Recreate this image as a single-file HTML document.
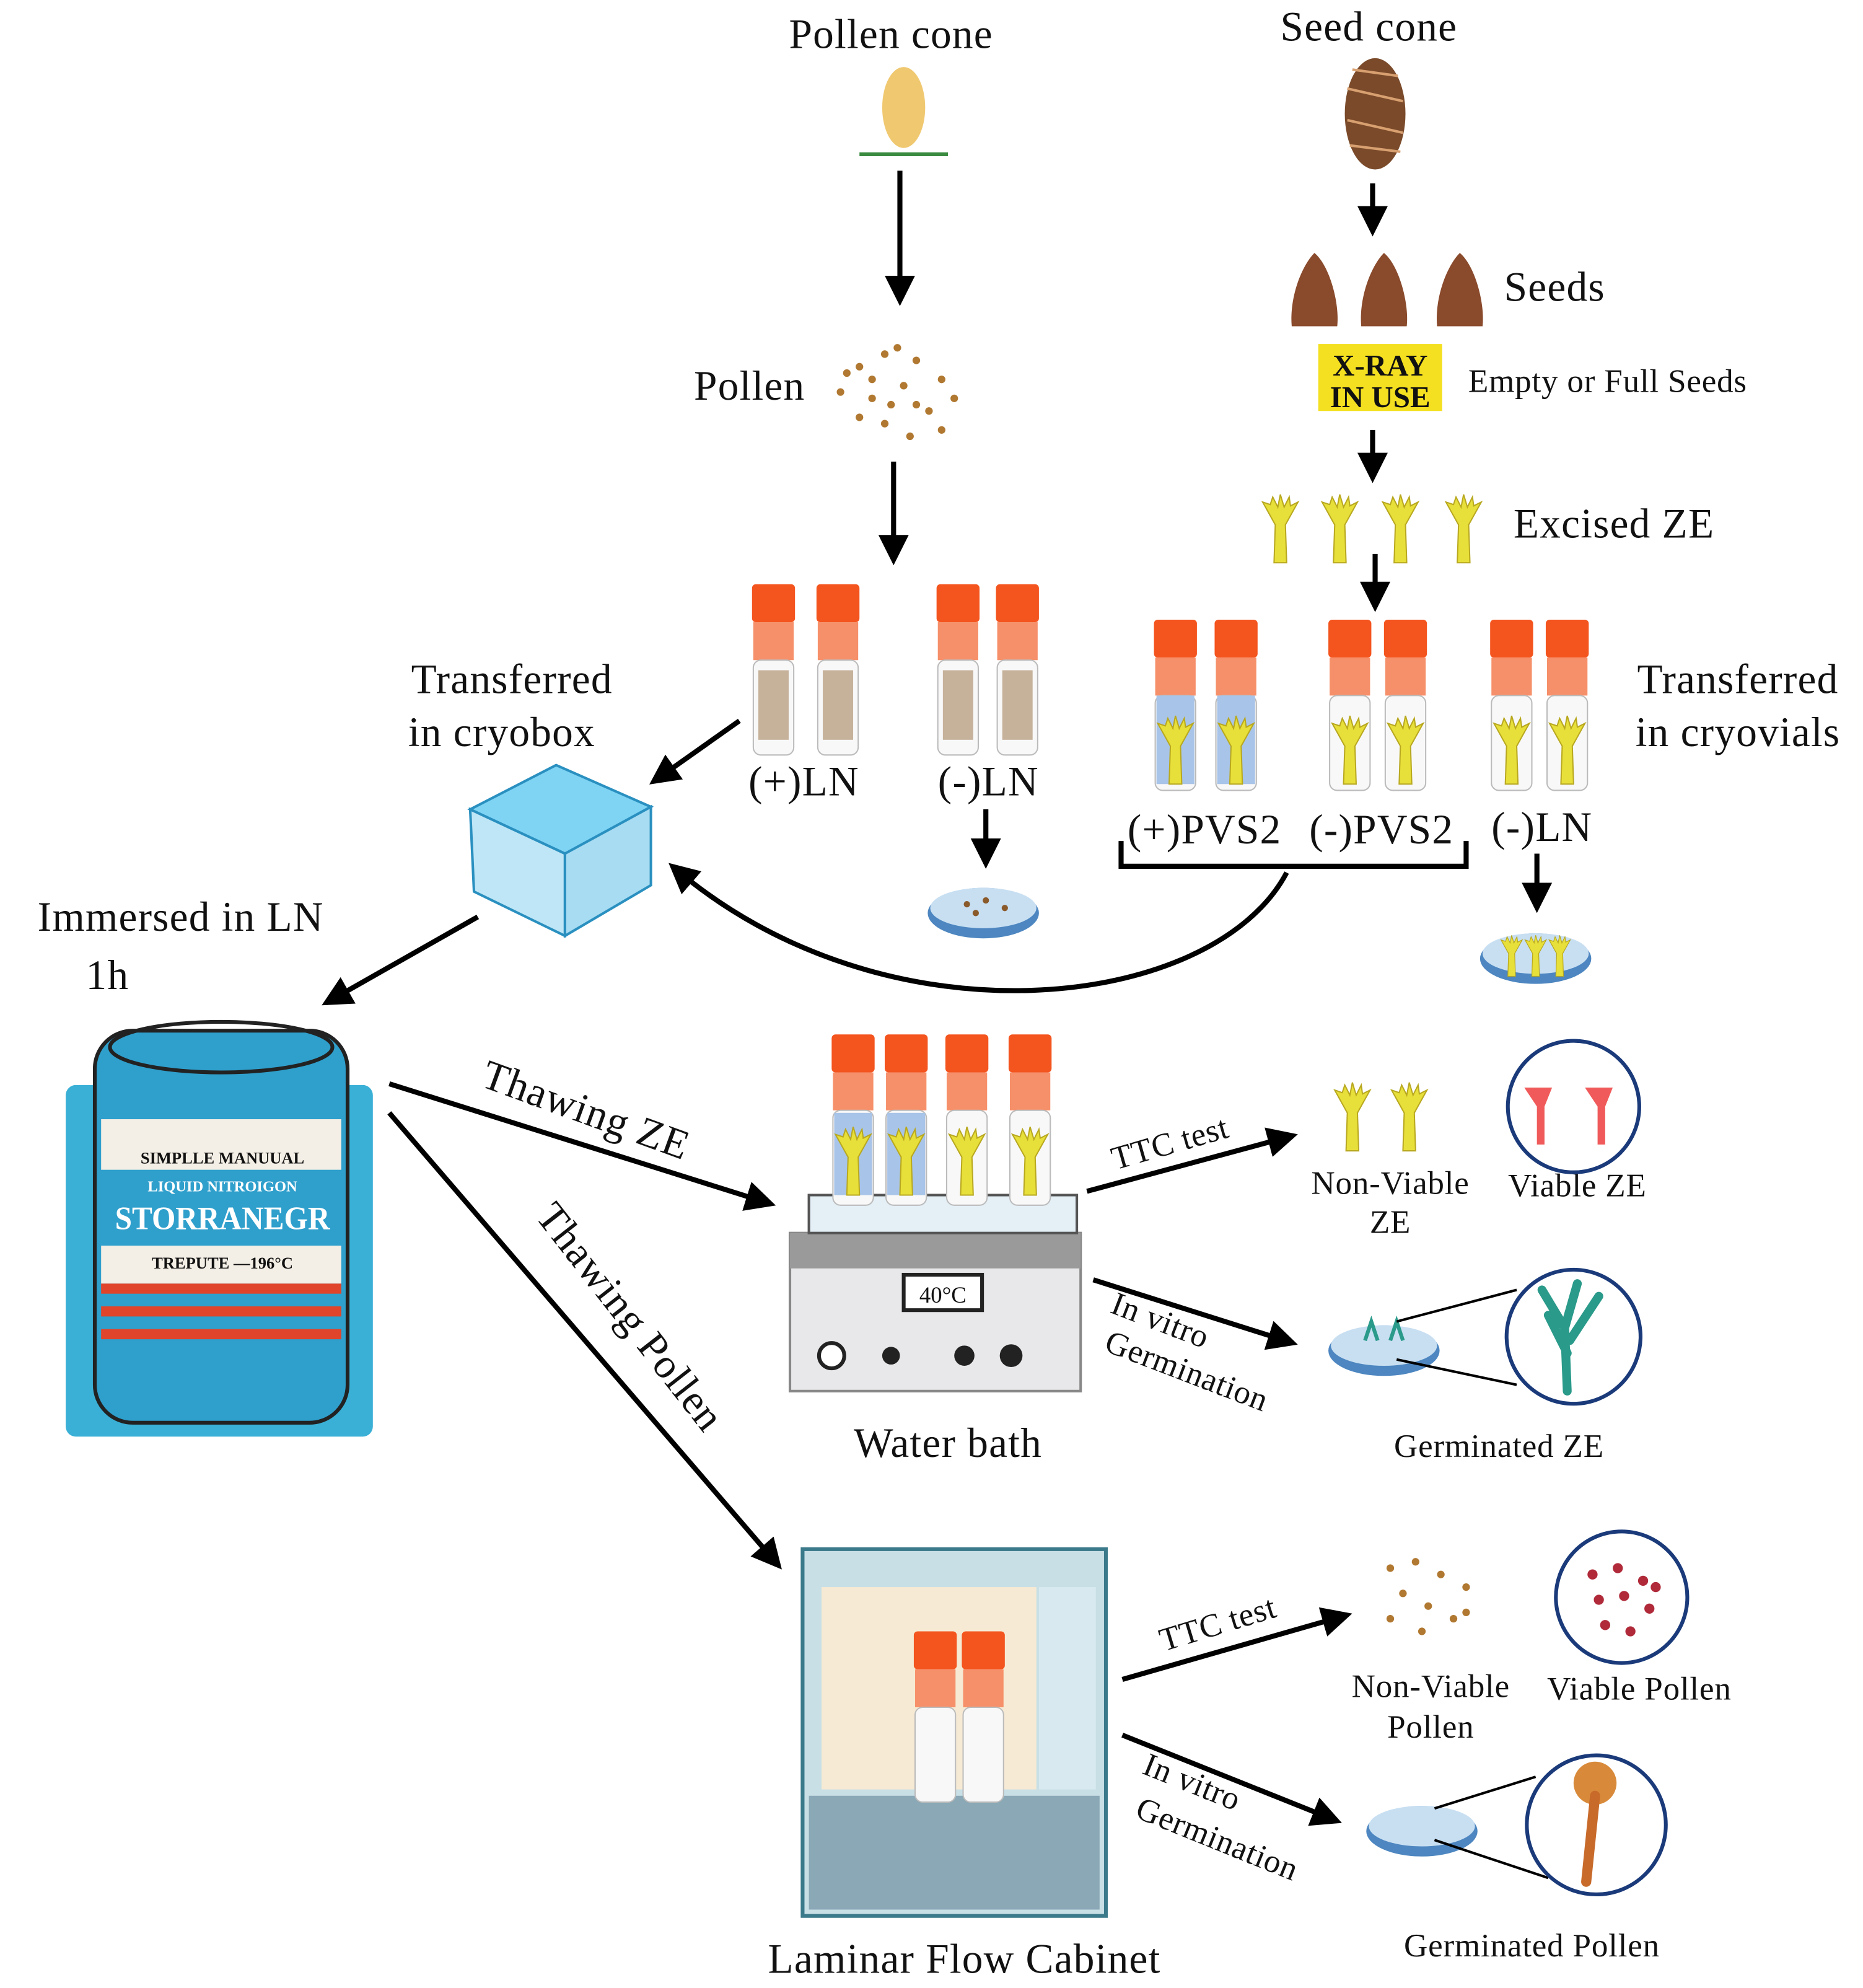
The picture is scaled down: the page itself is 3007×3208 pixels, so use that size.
<!DOCTYPE html>
<html><head><meta charset="utf-8"><style>
html,body{margin:0;padding:0;background:#fff}
svg{display:block}
text{font-family:"Liberation Serif",serif;fill:#111}
.b{font-size:33px;letter-spacing:0.6px}
.s{font-size:26px;letter-spacing:0.4px}
</style></head><body>
<svg width="3007" height="3208" viewBox="0 0 1474 1572" preserveAspectRatio="none" xmlns="http://www.w3.org/2000/svg">
<defs>
<marker id="ah" markerWidth="6" markerHeight="6" refX="5" refY="3" orient="auto" markerUnits="strokeWidth"><path d="M0,0 L6,3 L0,6 Z" fill="#000"/></marker>
<g id="tube"><rect x="-17" y="0" width="34" height="30" rx="3" fill="#f4541e"/><rect x="-16" y="30" width="32" height="30" fill="#f6906a"/><rect x="-16" y="60" width="32" height="75" rx="6" fill="#f8f8f8" stroke="#bbb"/></g>
<g id="ze"><path d="M-5,40 L-4,10 L-14,-8 L-8,-6 L-6,-12 L-2,-4 L0,-14 L3,-4 L7,-12 L8,-5 L14,-8 L4,10 L5,40 Z" fill="#e8e03a" stroke="#b8a820" stroke-width="1"/></g>
<g id="seed"><path d="M0,-30 C12,-20 20,10 18,28 L-18,28 C-20,5 -10,-20 0,-30Z" fill="#8a4a2c"/></g>
<g id="dish"><ellipse cx="0" cy="0" rx="44" ry="20" fill="#4d86c0"/><ellipse cx="0" cy="-4" rx="42" ry="16" fill="#c8dff2"/></g>
</defs>
<g stroke="#000" stroke-width="4" fill="none" marker-end="url(#ah)">
<line x1="712" y1="135" x2="712" y2="238"/>
<line x1="707" y1="365" x2="707" y2="443"/>
<line x1="780" y1="640" x2="780" y2="683"/>
<line x1="585" y1="570" x2="517" y2="618"/>
<line x1="378" y1="725" x2="258" y2="793"/>
<line x1="1086" y1="145" x2="1086" y2="183"/>
<line x1="1086" y1="340" x2="1086" y2="378"/>
<line x1="1088" y1="438" x2="1088" y2="480"/>
<line x1="1216" y1="675" x2="1216" y2="718"/>
<line x1="308" y1="857" x2="610" y2="952"/>
<line x1="308" y1="880" x2="616" y2="1238"/>
<line x1="860" y1="942" x2="1023" y2="898"/>
<line x1="865" y1="1012" x2="1023" y2="1062"/>
<line x1="888" y1="1328" x2="1066" y2="1277"/>
<line x1="888" y1="1372" x2="1058" y2="1440"/>
<path d="M1018,690 C960,800 700,830 532,685"/>
</g>
<path d="M887,665 L887,685 L1160,685 L1160,665" stroke="#000" stroke-width="4" fill="none"/>
<g class="b" text-anchor="middle">
<text x="705" y="38">Pollen cone</text>
<text x="1083" y="32">Seed cone</text>
<text x="593" y="316">Pollen</text>
<text x="1230" y="238">Seeds</text>
<text x="1277" y="425">Excised ZE</text>
<text x="405" y="548">Transferred</text>
<text x="397" y="590">in cryobox</text>
<text x="1375" y="548">Transferred</text>
<text x="1375" y="590">in cryovials</text>
<text x="636" y="629">(+)LN</text>
<text x="782" y="629">(-)LN</text>
<text x="953" y="667">(+)PVS2</text>
<text x="1093" y="667">(-)PVS2</text>
<text x="1220" y="665">(-)LN</text>
<text x="143" y="736">Immersed in LN</text>
<text x="85" y="782">1h</text>
<text x="750" y="1152">Water bath</text>
<text x="763" y="1560">Laminar Flow Cabinet</text>
</g>
<g class="s" text-anchor="middle">
<text x="1272" y="310">Empty or Full Seeds</text>
<text x="1100" y="944">Non-Viable</text><text x="1100" y="975">ZE</text>
<text x="1248" y="946">Viable ZE</text>
<text x="1186" y="1152">Germinated ZE</text>
<text x="1132" y="1342">Non-Viable</text><text x="1132" y="1374">Pollen</text>
<text x="1297" y="1344">Viable Pollen</text>
<text x="1212" y="1547">Germinated Pollen</text>
<text transform="translate(928,912) rotate(-16)">TTC test</text>
<text transform="translate(966,1292) rotate(-17)">TTC test</text>
<text transform="translate(915,1052) rotate(21)">In vitro</text>
<text transform="translate(936,1092) rotate(21)">Germination</text>
<text transform="translate(940,1417) rotate(22)">In vitro</text>
<text transform="translate(960,1462) rotate(22)">Germination</text>
</g>
<text class="b" text-anchor="middle" transform="translate(460,888) rotate(20)">Thawing ZE</text>
<text class="b" text-anchor="middle" transform="translate(490,1048) rotate(52)">Thawing Pollen</text>
<ellipse cx="715" cy="85" rx="17" ry="32" fill="#f0c870"/>
<path d="M680,122 L750,122" stroke="#3a8a40" stroke-width="3"/>
<g fill="#b07830">
<circle cx="680" cy="290" r="3"/><circle cx="700" cy="280" r="3"/><circle cx="725" cy="285" r="3"/><circle cx="745" cy="300" r="3"/><circle cx="665" cy="310" r="3"/><circle cx="690" cy="315" r="3"/><circle cx="715" cy="305" r="3"/><circle cx="735" cy="325" r="3"/><circle cx="755" cy="315" r="3"/><circle cx="700" cy="335" r="3"/><circle cx="720" cy="345" r="3"/><circle cx="680" cy="330" r="3"/><circle cx="710" cy="275" r="3"/><circle cx="745" cy="340" r="3"/><circle cx="690" cy="300" r="3"/><circle cx="725" cy="320" r="3"/><circle cx="670" cy="295" r="3"/><circle cx="705" cy="320" r="3"/>
</g>
<ellipse cx="1088" cy="90" rx="24" ry="44" fill="#7a4a2a"/>
<g fill="none" stroke="#d8a070" stroke-width="2"><path d="M1066,70 L1110,80 M1066,95 L1110,105 M1068,115 L1108,120 M1070,55 L1106,60"/></g>
<use href="#seed" x="1040" y="230"/><use href="#seed" x="1095" y="230"/><use href="#seed" x="1155" y="230"/>
<rect x="1043" y="272" width="98" height="53" fill="#f4e020"/>
<text x="1092" y="297" font-family="Liberation Sans" font-weight="bold" font-size="24" text-anchor="middle">X-RAY</text>
<text x="1092" y="322" font-family="Liberation Sans" font-weight="bold" font-size="24" text-anchor="middle">IN USE</text>
<use href="#ze" x="1013" y="405"/><use href="#ze" x="1060" y="405"/><use href="#ze" x="1108" y="405"/><use href="#ze" x="1158" y="405"/>
<g><use href="#tube" x="612" y="462"/><use href="#tube" x="663" y="462"/><use href="#tube" x="758" y="462"/><use href="#tube" x="805" y="462"/></g>
<g fill="#8a5a2a"><rect x="600" y="530" width="24" height="55" opacity=".45"/><rect x="651" y="530" width="24" height="55" opacity=".45"/><rect x="746" y="530" width="24" height="55" opacity=".45"/><rect x="793" y="530" width="24" height="55" opacity=".45"/></g>
<g><use href="#tube" x="930" y="490"/><use href="#tube" x="978" y="490"/><use href="#tube" x="1068" y="490"/><use href="#tube" x="1112" y="490"/><use href="#tube" x="1196" y="490"/><use href="#tube" x="1240" y="490"/></g>
<rect x="915" y="550" width="30" height="70" fill="#a8c4e8"/><rect x="963" y="550" width="30" height="70" fill="#a8c4e8"/>
<use href="#ze" x="930" y="580"/><use href="#ze" x="978" y="580"/><use href="#ze" x="1068" y="580"/><use href="#ze" x="1112" y="580"/><use href="#ze" x="1196" y="580"/><use href="#ze" x="1240" y="580"/>
<use href="#dish" x="778" y="722"/>
<g fill="#8a5a2a"><circle cx="765" cy="715" r="2.5"/><circle cx="780" cy="712" r="2.5"/><circle cx="795" cy="718" r="2.5"/><circle cx="772" cy="722" r="2.5"/></g>
<use href="#dish" x="1215" y="758"/>
<g transform="translate(1196,748) scale(0.6)"><use href="#ze"/></g>
<g transform="translate(1215,748) scale(0.6)"><use href="#ze"/></g>
<g transform="translate(1234,748) scale(0.6)"><use href="#ze"/></g>
<path d="M372,640 L440,605 L515,638 L447,675 Z" fill="#7fd4f4" stroke="#2a90c0" stroke-width="2"/>
<path d="M372,640 L447,675 L447,740 L375,705 Z" fill="#bfe6f6" stroke="#2a90c0" stroke-width="2"/>
<path d="M447,675 L515,638 L515,700 L447,740 Z" fill="#a8dcf2" stroke="#2a90c0" stroke-width="2"/>
<rect x="52" y="858" width="243" height="278" rx="8" fill="#3ab0d6"/>
<rect x="75" y="815" width="200" height="310" rx="30" fill="#2f9fcc" stroke="#222" stroke-width="3"/>
<rect x="80" y="885" width="190" height="40" fill="#f4efe6"/>
<rect x="80" y="985" width="190" height="30" fill="#f4efe6"/>
<rect x="80" y="1015" width="190" height="8" fill="#e0442a"/><rect x="80" y="1033" width="190" height="8" fill="#e0442a"/><rect x="80" y="1051" width="190" height="8" fill="#e0442a"/>
<text x="176" y="920" font-family="Liberation Sans" font-weight="bold" font-size="13" text-anchor="middle">SIMPLLE MANUUAL</text>
<text x="176" y="942" font-family="Liberation Sans" font-weight="bold" font-size="12" text-anchor="middle" style="fill:#fff">LIQUID NITROIGON</text>
<text x="176" y="972" font-family="Liberation Sans" font-weight="bold" font-size="26" text-anchor="middle" textLength="170" lengthAdjust="spacingAndGlyphs" style="fill:#fff">STORRANEGR</text>
<text x="176" y="1003" font-family="Liberation Sans" font-weight="bold" font-size="13" text-anchor="middle">TREPUTE —196°C</text>
<ellipse cx="175" cy="828" rx="88" ry="20" fill="none" stroke="#222" stroke-width="3"/>
<rect x="625" y="975" width="230" height="125" fill="#e8e8ea" stroke="#888" stroke-width="2"/>
<rect x="625" y="975" width="230" height="28" fill="#9a9a9a"/>
<rect x="715" y="1008" width="62" height="28" fill="#fff" stroke="#222" stroke-width="3"/>
<text x="746" y="1030" font-family="Liberation Sans" font-size="18" text-anchor="middle">40°C</text>
<circle cx="658" cy="1072" r="10" fill="#fff" stroke="#222" stroke-width="3"/><circle cx="705" cy="1072" r="7" fill="#222"/><circle cx="763" cy="1072" r="8" fill="#222"/><circle cx="800" cy="1072" r="9" fill="#222"/>
<rect x="640" y="945" width="212" height="30" fill="#e4eff6" stroke="#555" stroke-width="2"/>
<use href="#tube" x="675" y="818"/><use href="#tube" x="717" y="818"/><use href="#tube" x="765" y="818"/><use href="#tube" x="815" y="818"/>
<rect x="660" y="880" width="30" height="65" fill="#a8c4e8"/><rect x="702" y="880" width="30" height="65" fill="#a8c4e8"/>
<use href="#ze" x="675" y="905"/><use href="#ze" x="717" y="905"/><use href="#ze" x="765" y="905"/><use href="#ze" x="815" y="905"/>
<use href="#ze" x="1070" y="870"/><use href="#ze" x="1115" y="870"/>
<circle cx="1245" cy="875" r="52" fill="#fff" stroke="#1a3a7a" stroke-width="3"/>
<path d="M1216,905 L1216,875 L1206,860 L1228,860 L1222,875 L1222,905Z M1264,905 L1264,875 L1254,860 L1276,860 L1270,875 L1270,905Z" fill="#f05a5a"/>
<use href="#dish" x="1095" y="1068"/>
<path d="M1080,1060 l5,-15 l5,15 M1100,1060 l5,-15 l5,15" stroke="#2a9a8a" stroke-width="3" fill="none"/>
<line x1="1105" y1="1045" x2="1200" y2="1020" stroke="#000" stroke-width="2"/><line x1="1105" y1="1075" x2="1200" y2="1095" stroke="#000" stroke-width="2"/>
<circle cx="1245" cy="1057" r="53" fill="#fff" stroke="#1a3a7a" stroke-width="3"/>
<path d="M1240,1100 L1238,1050 L1220,1020 M1238,1050 L1248,1015 M1242,1060 L1265,1025 M1240,1070 L1225,1040" stroke="#2a9a8a" stroke-width="7" fill="none" stroke-linecap="round"/>
<rect x="635" y="1225" width="240" height="290" fill="#c8dfe6" stroke="#3a7a8a" stroke-width="3"/>
<rect x="650" y="1255" width="170" height="160" fill="#f6ead4"/>
<rect x="822" y="1255" width="45" height="160" fill="#d8eaf0"/>
<rect x="640" y="1420" width="230" height="90" fill="#8aa8b6"/>
<use href="#tube" x="740" y="1290"/><use href="#tube" x="778" y="1290"/>
<g fill="#b07830"><circle cx="1100" cy="1240" r="3"/><circle cx="1120" cy="1235" r="3"/><circle cx="1140" cy="1245" r="3"/><circle cx="1160" cy="1255" r="3"/><circle cx="1110" cy="1260" r="3"/><circle cx="1130" cy="1270" r="3"/><circle cx="1150" cy="1280" r="3"/><circle cx="1100" cy="1280" r="3"/><circle cx="1125" cy="1290" r="3"/><circle cx="1160" cy="1275" r="3"/></g>
<circle cx="1283" cy="1263" r="52" fill="#fff" stroke="#1a3a7a" stroke-width="3"/>
<g fill="#b02a3a"><circle cx="1260" cy="1245" r="4"/><circle cx="1280" cy="1240" r="4"/><circle cx="1300" cy="1250" r="4"/><circle cx="1265" cy="1265" r="4"/><circle cx="1285" cy="1262" r="4"/><circle cx="1305" cy="1272" r="4"/><circle cx="1270" cy="1285" r="4"/><circle cx="1290" cy="1290" r="4"/><circle cx="1310" cy="1255" r="4"/></g>
<use href="#dish" x="1125" y="1448"/>
<line x1="1135" y1="1430" x2="1215" y2="1405" stroke="#000" stroke-width="2"/><line x1="1135" y1="1455" x2="1225" y2="1485" stroke="#000" stroke-width="2"/>
<circle cx="1263" cy="1443" r="55" fill="#fff" stroke="#1a3a7a" stroke-width="3"/>
<circle cx="1262" cy="1410" r="17" fill="#d88a3a"/>
<path d="M1262,1420 L1255,1488" stroke="#c86a2a" stroke-width="8" stroke-linecap="round"/>
</svg>
</body></html>
